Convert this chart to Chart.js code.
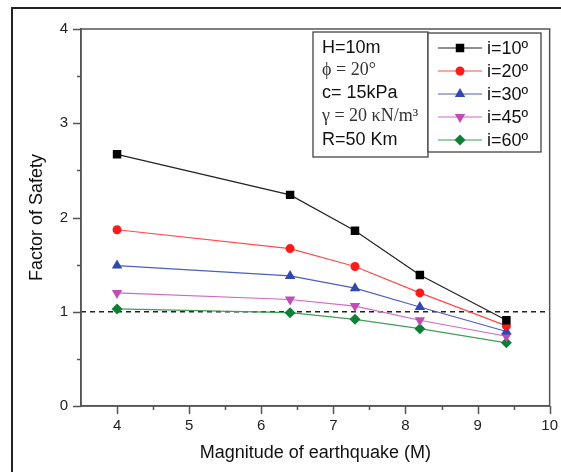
<!DOCTYPE html>
<html>
<head>
<meta charset="utf-8">
<script src="https://cdn.jsdelivr.net/npm/chart.js@4/dist/chart.umd.min.js"></script>
<style>
html, body { margin: 0; padding: 0; background: #fff; }
</style>
</head>
<body>
<canvas id="fsChart" width="561" height="472"></canvas>
<script>
// data
let magnitudes = [4, 6.4, 7.3, 8.2, 9.4];
let fs10 = [2.67, 2.24, 1.86, 1.39, 0.91];
let fs20 = [1.87, 1.67, 1.48, 1.20, 0.85];
let fs30 = [1.49, 1.38, 1.25, 1.05, 0.79];
let fs45 = [1.20, 1.13, 1.06, 0.91, 0.74];
let fs60 = [1.03, 0.99, 0.92, 0.82, 0.67];
let seriesLabels = ['i=10º', 'i=20º', 'i=30º', 'i=45º', 'i=60º'];
let xRange = [3.5, 10];
let yRange = [0, 4];
let safetyLevel = 1;
let paramLines = ['H=10m', 'ϕ = 20°', 'c= 15kPa', 'γ = 20 κN/m³', 'R=50 Km'];

const SANS = "'Liberation Sans', Arial, sans-serif";
const SERIF = "'Liberation Serif', 'Times New Roman', serif";

let styles = [
    { line: '#222222', point: '#000000', shape: 'rect', r: 6 },
    { line: '#ff4a4a', point: '#ff1a1a', shape: 'circle', r: 4.5 },
    { line: '#4a5fc0', point: '#3048b0', shape: 'triangle', r: 6 },
    { line: '#d068c8', point: '#c04cb4', shape: 'triangleDown', r: 6 },
    { line: '#3fa057', point: '#0f7f36', shape: 'rectRot', r: 5.5 }
];
let allSeries = [fs10, fs20, fs30, fs45, fs60];

function toPoints(ys) {
    let pts = [];
    for (let i = 0; i < magnitudes.length; i++) {
        pts.push({ x: magnitudes[i], y: ys[i] });
    }
    return pts;
}

let datasets = [];
for (let k = 0; k < allSeries.length; k++) {
    let st = styles[k];
    datasets.push({
        label: seriesLabels[k],
        data: toPoints(allSeries[k]),
        borderColor: st.line,
        borderWidth: 1.2,
        backgroundColor: st.point,
        pointBackgroundColor: st.point,
        pointBorderColor: st.point,
        pointBorderWidth: 0,
        pointStyle: st.shape === 'triangleDown' ? 'triangle' : st.shape,
        pointRotation: st.shape === 'triangleDown' ? 180 : 0,
        pointRadius: st.r,
        tension: 0
    });
}
// dashed FS = 1 line, drawn behind the series
datasets.push({
    label: 'FS=1',
    data: [{ x: xRange[0], y: safetyLevel }, { x: xRange[1], y: safetyLevel }],
    borderColor: '#222',
    borderWidth: 1.3,
    borderDash: [5, 4],
    pointRadius: 0,
    tension: 0
});

function drawMarker(ctx, shape, x, y, r, color) {
    ctx.save();
    ctx.fillStyle = color;
    ctx.beginPath();
    if (shape === 'rect') {
        let s = r * Math.SQRT1_2;
        ctx.rect(x - s, y - s, 2 * s, 2 * s);
    } else if (shape === 'circle') {
        ctx.arc(x, y, r, 0, Math.PI * 2);
    } else if (shape === 'triangle') {
        ctx.moveTo(x, y - r);
        ctx.lineTo(x + r * 0.866, y + r * 0.5);
        ctx.lineTo(x - r * 0.866, y + r * 0.5);
    } else if (shape === 'triangleDown') {
        ctx.moveTo(x, y + r);
        ctx.lineTo(x + r * 0.866, y - r * 0.5);
        ctx.lineTo(x - r * 0.866, y - r * 0.5);
    } else if (shape === 'rectRot') {
        ctx.moveTo(x, y - r);
        ctx.lineTo(x + r, y);
        ctx.lineTo(x, y + r);
        ctx.lineTo(x - r, y);
    }
    ctx.closePath();
    ctx.fill();
    ctx.restore();
}

const framePlugin = {
    id: 'framePlugin',
    afterDraw(chart) {
        const ctx = chart.ctx;
        const a = chart.chartArea;
        const xs = chart.scales.x;
        const ys = chart.scales.y;
        ctx.save();

        // outer figure frame
        ctx.strokeStyle = '#222';
        ctx.lineWidth = 2;
        ctx.beginPath();
        ctx.moveTo(12, 472);
        ctx.lineTo(12, 8);
        ctx.lineTo(561, 8);
        ctx.stroke();

        // plot box
        ctx.strokeStyle = '#555';
        ctx.lineWidth = 1.5;
        ctx.strokeRect(a.left, a.top, a.right - a.left, a.bottom - a.top);

        // tick marks (major / minor)
        ctx.beginPath();
        xs.ticks.forEach(function (t) {
            if (t.value <= xRange[0]) return;
            let px = Math.round(xs.getPixelForValue(t.value)) + 0.5;
            let len = Number.isInteger(t.value) ? 8 : 4;
            ctx.moveTo(px, a.bottom);
            ctx.lineTo(px, a.bottom + len);
        });
        ys.ticks.forEach(function (t) {
            let py = Math.round(ys.getPixelForValue(t.value)) + 0.5;
            let len = Number.isInteger(t.value) ? 8 : 4;
            ctx.moveTo(a.left, py);
            ctx.lineTo(a.left - len, py);
        });
        ctx.stroke();

        // parameter box
        ctx.fillStyle = '#fff';
        ctx.fillRect(313, 32, 115, 125);
        ctx.strokeStyle = '#444';
        ctx.lineWidth = 1.3;
        ctx.strokeRect(313, 32, 115, 125);
        let rowY = [48, 70.5, 93.5, 116.5, 140];
        ctx.textBaseline = 'middle';
        ctx.textAlign = 'left';
        for (let i = 0; i < paramLines.length; i++) {
            let serif = (i === 1 || i === 3);
            ctx.font = serif ? '18px ' + SERIF : '18px ' + SANS;
            ctx.fillStyle = serif ? '#333' : '#111';
            ctx.fillText(paramLines[i], 322, rowY[i]);
        }

        // legend box
        ctx.fillStyle = '#fff';
        ctx.fillRect(428, 33, 113, 119);
        ctx.strokeStyle = '#444';
        ctx.strokeRect(428, 33, 113, 119);
        let legY = [48, 71, 94, 117, 140];
        ctx.font = '18px ' + SANS;
        for (let k = 0; k < seriesLabels.length; k++) {
            let st = styles[k];
            ctx.strokeStyle = st.line;
            ctx.lineWidth = 1.2;
            ctx.beginPath();
            ctx.moveTo(438, legY[k]);
            ctx.lineTo(482, legY[k]);
            ctx.stroke();
            drawMarker(ctx, st.shape, 460, legY[k], st.r, st.point);
            ctx.fillStyle = '#111';
            ctx.fillText(seriesLabels[k], 487, legY[k] + 1);
        }
        ctx.restore();
    }
};

const ctx = document.getElementById('fsChart').getContext('2d');
const fsChart = new Chart(ctx, {
    type: 'line',
    data: { datasets: datasets },
    options: {
        responsive: false,
        animation: false,
        layout: { padding: { top: 29, right: 11, left: 0, bottom: 0 } },
        plugins: {
            legend: { display: false },
            tooltip: { enabled: false }
        },
        scales: {
            x: {
                type: 'linear',
                min: xRange[0],
                max: xRange[1],
                afterFit: function (s) { s.height = 66; },
                border: { display: true, color: '#555', width: 1.5 },
                grid: { drawOnChartArea: false, drawTicks: true, tickLength: 8, tickColor: 'rgba(0,0,0,0)' },
                ticks: {
                    stepSize: 0.5,
                    autoSkip: false,
                    maxRotation: 0,
                    padding: 3,
                    color: '#222',
                    font: { family: SANS, size: 15 },
                    callback: function (v) { return Number.isInteger(v) ? String(v) : ''; }
                },
                title: {
                    display: true,
                    text: 'Magnitude of earthquake (M)',
                    color: '#111',
                    font: { family: SANS, size: 18 },
                    padding: { top: 0, bottom: 8 }
                }
            },
            y: {
                type: 'linear',
                min: yRange[0],
                max: yRange[1],
                afterFit: function (s) { s.width = 81; },
                border: { display: true, color: '#555', width: 1.5 },
                grid: { drawOnChartArea: false, drawTicks: true, tickLength: 8, tickColor: 'rgba(0,0,0,0)' },
                ticks: {
                    stepSize: 0.5,
                    autoSkip: false,
                    padding: 5,
                    color: '#222',
                    font: { family: SANS, size: 15 },
                    callback: function (v) { return Number.isInteger(v) ? String(v) : ''; }
                },
                title: {
                    display: true,
                    text: 'Factor of Safety',
                    color: '#111',
                    font: { family: SANS, size: 18 },
                    padding: { top: 26, bottom: 0 }
                }
            }
        }
    },
    plugins: [framePlugin]
});
</script>
</body>
</html>
